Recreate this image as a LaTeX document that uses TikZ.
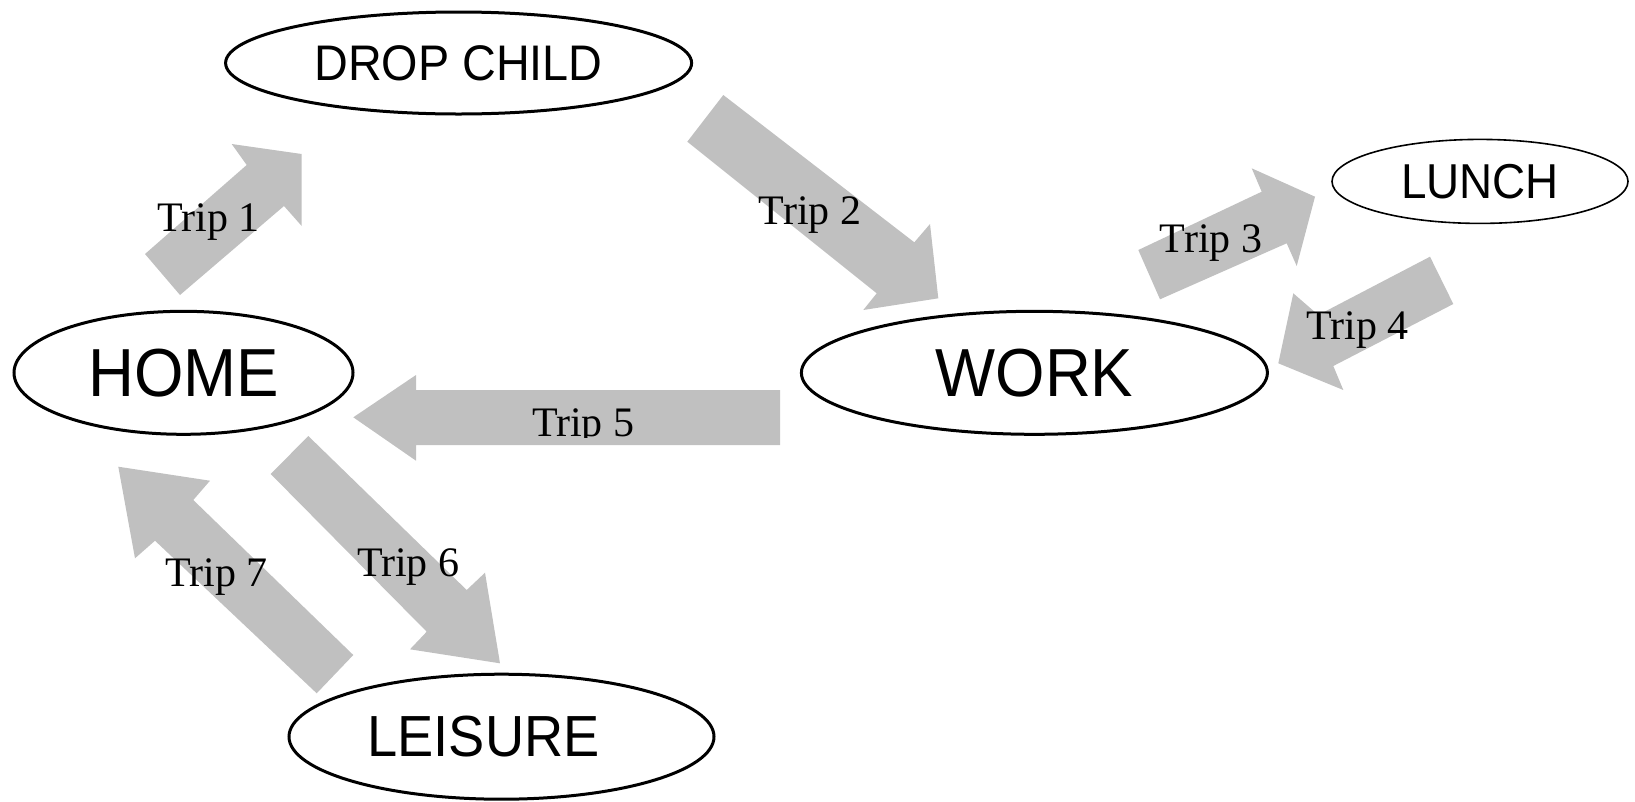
\documentclass[tikz,border=0pt]{standalone}
\usepackage{fontspec}
\setmainfont{Liberation Serif}
\newfontfamily\placefont[FakeStretch=0.935]{Liberation Sans}
\usetikzlibrary{shapes.geometric}
\definecolor{tripgray}{RGB}{192,192,192}
\tikzstyle{place} = [ellipse, draw=black, line width=3pt, inner sep=0pt, text centered]
\tikzstyle{trip} = [anchor=base, inner sep=0pt, font=\fontsize{42}{46}\selectfont]
\tikzstyle{block} = [fill=tripgray, draw=none]

\begin{document}
\begin{tikzpicture}[x=1pt, y=1pt, yscale=-1]
\useasboundingbox (0, 0) rectangle (1635, 801);

\fill [block] (145, 254) -- (246.7, 165) -- (231.7, 144) -- (301.7, 154) -- (301.7, 226) -- (284, 206) -- (180, 295) -- cycle;
\fill [block] (723.3, 95) -- (914.3, 242.3) -- (930, 224) -- (938.3, 298.3) -- (863.3, 310) -- (876.7, 293.3) -- (687.3, 141.7) -- cycle;
\fill [block] (1138.3, 250) -- (1261.7, 191.7) -- (1251.7, 168.3) -- (1315, 196.7) -- (1296.7, 266) -- (1286.7, 243.3) -- (1160, 299.3) -- cycle;
\fill [block] (1430, 256.7) -- (1453.3, 304) -- (1333.3, 366) -- (1343.3, 390) -- (1278.3, 363.3) -- (1293.3, 293.3) -- (1318.3, 315) -- cycle;
\fill [block] (780, 390) -- (416, 390) -- (416, 375) -- (353.3, 417.3) -- (416, 460.7) -- (416, 445) -- (780, 445) -- cycle;
\fill [block] (308.3, 436) -- (466.7, 590) -- (485, 572.7) -- (500, 663.3) -- (410, 649.3) -- (426.7, 631.7) -- (270.7, 474) -- cycle;
\fill [block] (353.3, 655) -- (193.3, 500) -- (210, 480.7) -- (118.3, 466.7) -- (135, 558.3) -- (155, 540.7) -- (316.7, 693.3) -- cycle;

\node at (208.8, 231.7) (trip1) [trip] {Trip 1};
\node at (810, 224) (trip2) [trip] {Trip 2};
\node at (1211, 252.7) (trip3) [trip] {Trip 3};
\node at (1357.5, 339) (trip4) [trip] {Trip 4};
\begin{scope}
\clip (0, 0) rectangle (1635, 437.3);
\node at (583.3, 436) (trip5) [trip] {Trip 5};
\end{scope}
\node at (408.3, 576) (trip6) [trip] {Trip 6};
\node at (216.7, 586.7) (trip7) [trip] {Trip 7};

\node at (458.6, 63) (drop) [place, minimum width=466pt, minimum height=102pt, font=\placefont\fontsize{50}{54}\selectfont] {DROP CHILD};
\node at (183.5, 372.8) (home) [place, minimum width=339pt, minimum height=123pt, font=\placefont\fontsize{68}{72}\selectfont] {HOME};
\node at (1034.4, 372.8) (work) [place, minimum width=466pt, minimum height=123pt, font=\placefont\fontsize{68}{72}\selectfont] {WORK};
\node at (1480, 181.4) (lunch) [place, line width=1.6pt, minimum width=296pt, minimum height=84pt, font=\placefont\fontsize{49}{52}\selectfont] {LUNCH};
\node at (501.5, 736.7) (leisure) [place, minimum width=425pt, minimum height=125pt, font=\placefont\fontsize{58}{62}\selectfont] {\hspace*{-36pt}LEISURE};

\end{tikzpicture}
\end{document}
